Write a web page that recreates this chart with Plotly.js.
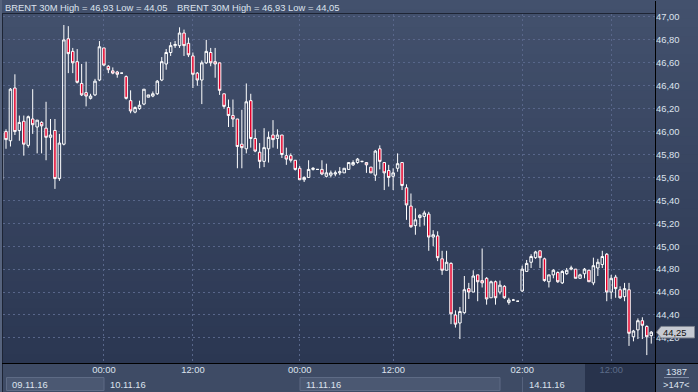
<!DOCTYPE html>
<html><head><meta charset="utf-8">
<script src="https://cdn.plot.ly/plotly-3.0.1.min.js"></script>
<style>html,body{margin:0;padding:0;background:#3e4b65;overflow:hidden}#chart{width:698px;height:392px}</style>
</head><body><div id="chart"></div>
<script>
// ---- data (30-minute bars, index 0..146) ----
const opens = [45.58,46.00,45.92,46.38,46.01,46.09,45.88,46.11,46.04,46.08,46.03,45.95,46.01,45.59,45.89,46.81,46.70,46.61,46.42,46.34,
46.29,46.32,46.45,46.73,46.57,46.53,46.52,46.51,46.48,46.27,46.17,46.20,46.24,46.30,46.31,46.33,46.45,46.59,46.69,46.75,
46.75,46.86,46.77,46.66,46.51,46.45,46.60,46.69,46.61,46.60,46.33,46.21,46.14,46.11,45.89,45.85,46.27,45.94,45.82,45.74,
45.85,45.97,45.94,45.97,45.79,45.79,45.75,45.68,45.58,45.60,45.67,45.67,45.67,45.61,45.62,45.63,45.64,45.64,45.67,45.71,
45.73,45.74,45.73,45.69,45.62,45.85,45.73,45.66,45.61,45.68,45.73,45.51,45.35,45.18,45.25,45.26,45.28,45.08,45.09,44.89,
44.79,44.85,44.40,44.33,44.42,44.63,44.60,44.75,44.70,44.72,44.55,44.69,44.60,44.65,44.51,44.53,44.52,44.61,44.78,44.86,
44.90,44.96,44.89,44.69,44.75,44.77,44.68,44.76,44.80,44.80,44.72,44.76,44.79,44.68,44.81,44.84,44.93,44.60,44.73,44.62,
44.56,44.62,44.21,44.27,44.35,44.30,44.22];
const highs = [46.00,46.02,46.38,46.50,46.14,46.14,46.14,46.37,46.10,46.09,46.26,46.11,46.11,45.98,46.93,46.92,46.73,46.72,46.59,46.61,
46.33,46.46,46.79,46.73,46.58,46.56,46.53,46.51,46.49,46.36,46.22,46.27,46.37,46.32,46.35,46.45,46.65,46.72,46.78,46.79,
46.91,46.89,46.82,46.69,46.52,46.62,46.80,46.73,46.73,46.60,46.33,46.28,46.28,46.11,46.19,46.42,46.33,46.02,45.90,46.03,
46.00,46.10,46.02,45.97,45.86,45.81,45.75,45.70,45.61,45.75,45.69,45.67,45.75,45.72,45.66,45.66,45.69,45.68,45.73,45.75,
45.77,45.74,45.73,45.69,45.84,45.88,45.73,45.71,45.68,45.81,45.73,45.54,45.46,45.33,45.28,45.31,45.30,45.14,45.13,44.96,
44.96,44.86,44.44,44.47,44.74,44.68,44.79,44.75,44.98,44.73,44.70,44.70,44.70,44.66,44.55,44.54,44.52,44.83,44.88,44.93,
44.96,44.96,44.90,44.75,44.80,44.78,44.79,44.81,44.83,44.80,44.76,44.81,44.79,44.90,44.89,44.96,44.94,44.75,44.75,44.65,
44.68,44.68,44.27,44.37,44.38,44.31,44.26];
const lows = [45.57,45.85,45.87,45.97,45.92,45.79,45.86,45.98,45.81,45.81,45.75,45.84,45.50,45.57,45.88,46.51,46.51,46.42,46.31,46.22,
46.28,46.31,46.44,46.57,46.51,46.50,46.47,46.51,46.28,46.16,46.16,46.19,46.23,46.30,46.30,46.32,46.44,46.54,46.66,46.73,
46.73,46.66,46.65,46.38,46.40,46.24,46.59,46.57,46.47,46.32,46.20,46.04,46.04,45.68,45.68,45.81,45.86,45.82,45.68,45.69,
45.73,45.86,45.85,45.77,45.71,45.73,45.66,45.58,45.56,45.60,45.66,45.67,45.62,45.60,45.60,45.61,45.62,45.64,45.67,45.70,
45.72,45.73,45.64,45.64,45.57,45.67,45.49,45.52,45.49,45.65,45.49,45.23,45.16,45.10,45.17,45.18,44.96,45.00,44.87,44.75,
44.79,44.32,44.29,44.19,44.41,44.54,44.60,44.52,44.64,44.49,44.55,44.49,44.58,44.54,44.49,44.53,44.52,44.60,44.78,44.81,
44.89,44.81,44.69,44.64,44.72,44.68,44.67,44.75,44.79,44.72,44.72,44.72,44.69,44.66,44.74,44.81,44.52,44.54,44.55,44.54,
44.52,44.13,44.17,44.19,44.19,44.05,44.15];
const closes = [45.99,45.93,46.37,46.00,46.08,45.89,46.13,46.06,46.10,46.05,45.95,45.97,45.59,45.90,46.80,46.68,46.60,46.43,46.32,46.31,
46.31,46.44,46.74,46.58,46.54,46.51,46.50,46.51,46.29,46.18,46.21,46.23,46.37,46.32,46.33,46.44,46.61,46.69,46.75,46.76,
46.86,46.75,46.67,46.50,46.45,46.60,46.70,46.60,46.59,46.36,46.22,46.14,46.11,45.87,45.86,46.26,45.94,45.83,45.74,45.86,
45.95,45.93,45.97,45.80,45.76,45.75,45.67,45.58,45.60,45.67,45.68,45.67,45.63,45.64,45.64,45.64,45.65,45.68,45.73,45.73,
45.76,45.74,45.71,45.64,45.83,45.74,45.64,45.60,45.64,45.72,45.53,45.36,45.17,45.23,45.27,45.29,45.08,45.10,44.90,44.79,
44.86,44.41,44.32,44.43,44.62,44.60,44.74,44.69,44.68,44.54,44.69,44.55,44.66,44.55,44.53,44.53,44.52,44.80,44.85,44.91,
44.95,44.90,44.70,44.75,44.79,44.69,44.78,44.79,44.81,44.72,44.75,44.80,44.69,44.83,44.86,44.91,44.60,44.72,44.63,44.55,
44.63,44.24,44.26,44.35,44.31,44.21,44.25];
const barIndex = opens.map((_, i) => i);

const xTickIdx  = [23, 43, 67, 88, 117, 137];
const xTickText = ['00:00', '12:00', '00:00', '12:00', '02:00', '12:00'];
const dateLabels = ['09.11.16', '10.11.16', '11.11.16', '14.11.16'];
const dateIdx    = [1.9, 23.9, 68, 118.1];
const yTicks = [44.2,44.4,44.6,44.8,45.0,45.2,45.4,45.6,45.8,46.0,46.2,46.4,46.6,46.8,47.0];
const lastPrice = 44.25;
const headerText = 'BRENT 30M High = 46,93 Low = 44,05';
const barCount = '1387';
const visibleCount = '>147<';

// ---- geometry helpers (pixel -> paper) ----
const PL = 3, PR = 655, PT = 14, PB = 363;
const PW = PR - PL, PH = PB - PT;
const px = p => (p - PL) / PW;
const py = p => (PB - p) / PH;

const FONT = 'Liberation Sans, Arial, sans-serif';
const shapes = [];
// background gradient
const NB = 40, gTop = [67, 81, 109], gBot = [43, 55, 82];
for (let k = 0; k < NB; k++) {
  const t = k / (NB - 1);
  const c = gTop.map((v, j) => Math.round(v + (gBot[j] - v) * t));
  const y0 = 363 * k / NB, y1 = 363 * (k + 1) / NB + 0.6;
  shapes.push({type:'rect', xref:'paper', yref:'paper', layer:'below',
    x0: px(0), x1: px(698), y0: py(Math.min(y1, 363)), y1: py(y0),
    fillcolor:`rgb(${c[0]},${c[1]},${c[2]})`, line:{width:0}});
}
// bottom strip boxes
const box = (x0, x1, y0, y1, fill, line) => shapes.push({type:'rect', xref:'paper', yref:'paper', layer:'below',
  x0: px(x0), x1: px(x1), y0: py(y1), y1: py(y0), fillcolor: fill, line: line ? {color: line, width: 1} : {width: 0}});
box(6.5, 104, 377.5, 390.5, '#4b5872', '#5e6b85');
box(300, 500, 377.5, 390.5, '#4b5872', '#5e6b85');
box(585, 655, 364, 392, '#28334c', null);
const vline = (x, y0, y1, color, w) => shapes.push({type:'line', xref:'paper', yref:'paper', layer:'above',
  x0: px(x), x1: px(x), y0: py(y0), y1: py(y1), line:{color: color, width: w}});
const hline = (y, x0, x1, color, w) => shapes.push({type:'line', xref:'paper', yref:'paper', layer:'above',
  x0: px(x0), x1: px(x1), y0: py(y), y1: py(y), line:{color: color, width: w}});
vline(522.5, 377, 392, '#56637e', 1);
box(0, 2, 0, 392, '#56637d', null);
vline(2.5, 13, 392, '#1d2434', 1);
hline(13.5, 2, 655, '#1d2434', 1);
hline(363.5, 2, 698, '#000000', 1);
vline(655.5, 1, 392, '#000000', 1);
hline(377.5, 664, 689, '#7d8aa3', 1);
// last price flag
shapes.push({type:'path', xref:'paper', yref:'y', layer:'above',
  path:`M ${px(656.5)} ${lastPrice} L ${px(661)} ${lastPrice + 0.05} L ${px(694.5)} ${lastPrice + 0.05} L ${px(694.5)} ${lastPrice - 0.05} L ${px(661)} ${lastPrice - 0.05} Z`,
  fillcolor:'#c6cad2', line:{color:'#7f8591', width:1}});

const annotations = [];
const addText = (text, x, y, opts) => annotations.push(Object.assign({text, x, y, xref:'paper', yref:'paper',
  showarrow:false, xanchor:'left', yanchor:'middle', font:{family:FONT, size:9.4, color:'#dde3ee'}}, opts || {}));
addText(headerText, px(3), py(7.5));
addText(headerText, px(174.5), py(7.5));
dateLabels.forEach((d, i) => annotations.push({text: d, x: dateIdx[i], xref:'x', y: py(384), yref:'paper',
  showarrow:false, xanchor:'left', yanchor:'middle', font:{family:FONT, size:9.4, color:'#dde3ee'}}));
addText(barCount, px(676.5), py(371), {xanchor:'center'});
addText(visibleCount, px(676.5), py(384.5), {xanchor:'center'});
annotations.push({text: lastPrice.toFixed(2).replace('.', ','), x: px(660.5), xref:'paper', y: lastPrice, yref:'y',
  showarrow:false, xanchor:'left', yanchor:'middle', font:{family:FONT, size:9.4, color:'#111111'}});

const xt = xTickText.map((t, i) => i === xTickText.length - 1 ? `<span style="color:#5c6b88">${t}</span>` : t);

const trace = {
  type:'candlestick', x: barIndex, open: opens, high: highs, low: lows, close: closes,
  increasing:{line:{color:'#ffffff', width:1}, fillcolor:'rgba(0,0,0,0)'},
  decreasing:{line:{color:'#ffffff', width:1}, fillcolor:'#e3002b'},
  whiskerwidth: 0, hoverinfo:'skip', showlegend:false
};

const layout = {
  width:698, height:392, margin:{l:PL, r:698 - PR, t:PT, b:392 - PB, pad:0},
  paper_bgcolor:'#3e4b65', plot_bgcolor:'rgba(0,0,0,0)',
  separators:', ', showlegend:false, boxgap:0.25, boxgroupgap:0.25,
  font:{family:FONT, size:9.4, color:'#dde3ee'},
  xaxis:{range:[(3 - 1.55) / 4.45, (655 - 1.55) / 4.45], tickmode:'array', tickvals:xTickIdx, ticktext:xt,
    showgrid:true, gridcolor:'#58668a', griddash:'2px,3px', gridwidth:1, zeroline:false, showline:false,
    ticks:'', tickfont:{family:FONT, size:9.4, color:'#dde3ee'}, rangeslider:{visible:false}, fixedrange:true},
  yaxis:{side:'right', range:[43.981, 47.026], tickmode:'array', tickvals:yTicks, tickformat:'.2f',
    showgrid:true, gridcolor:'#58668a', griddash:'2px,3px', gridwidth:1, zeroline:false, showline:false,
    ticks:'', tickfont:{family:FONT, size:9.4, color:'#dde3ee'}, fixedrange:true},
  shapes, annotations
};
Plotly.newPlot('chart', [trace], layout, {staticPlot:true, displayModeBar:false});
</script></body></html>
